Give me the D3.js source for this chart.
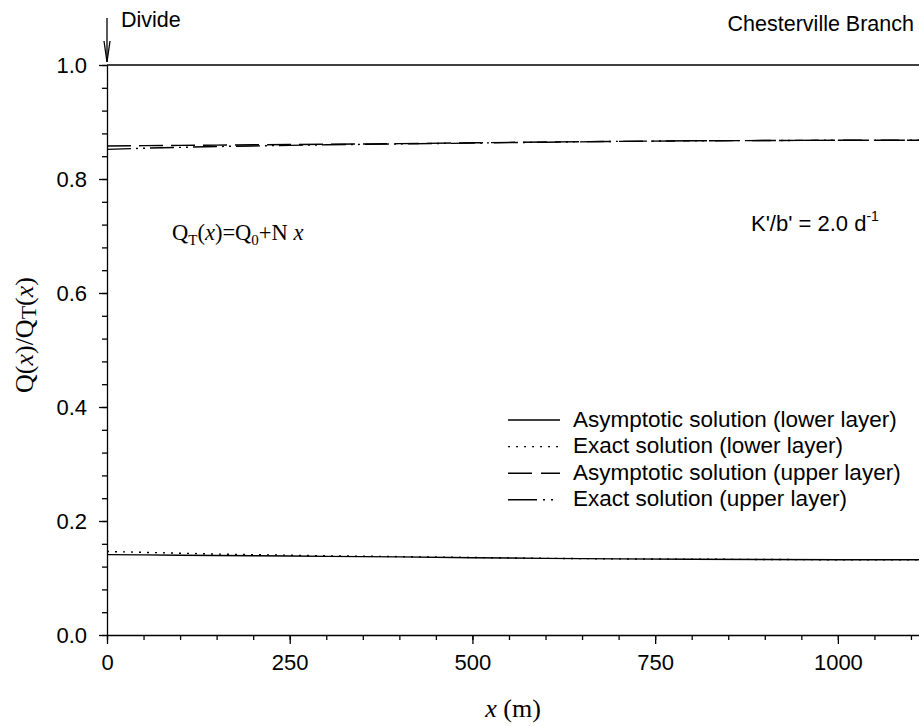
<!DOCTYPE html>
<html>
<head>
<meta charset="utf-8">
<script src="https://cdn.jsdelivr.net/npm/d3@7"></script>
<style>
  body { margin: 0; background: #fff; }
  svg { display: block; }
  .domain, .tick line { stroke: #000; stroke-width: 1.3; }
</style>
</head>
<body>
<svg id="chart" width="919" height="726"></svg>
<script>
// distance from the divide, m
const xValues = [0, 50, 100, 150, 200, 250, 300, 400, 500, 600, 700, 800, 900, 1000, 1111];
const lowerAsymptotic = [0.141, 0.1405, 0.140, 0.1395, 0.139, 0.1385, 0.138, 0.137, 0.1355, 0.1345, 0.1335, 0.133, 0.1325, 0.132, 0.132];
const lowerExact = [0.1465, 0.145, 0.1435, 0.142, 0.141, 0.140, 0.139, 0.1375, 0.136, 0.1345, 0.1335, 0.133, 0.1325, 0.132, 0.132];
const upperAsymptotic = [0.858, 0.8585, 0.859, 0.8595, 0.860, 0.8605, 0.861, 0.862, 0.8635, 0.865, 0.866, 0.867, 0.8675, 0.868, 0.868];
const upperExact = [0.852, 0.854, 0.8555, 0.857, 0.858, 0.859, 0.860, 0.8615, 0.863, 0.8645, 0.866, 0.867, 0.8675, 0.868, 0.868];
const totalFlow = [1, 1, 1, 1, 1, 1, 1, 1, 1, 1, 1, 1, 1, 1, 1];

const xMajorTicks = [0, 250, 500, 750, 1000];
const yMajorTicks = [0.0, 0.2, 0.4, 0.6, 0.8, 1.0];
const legendLabels = [
  "Asymptotic solution (lower layer)",
  "Exact solution (lower layer)",
  "Asymptotic solution (upper layer)",
  "Exact solution (upper layer)"
];

const margin = {top: 65, right: 0, bottom: 91, left: 107};
const width = 919, height = 726;
const sans = "Arial, 'Liberation Sans', sans-serif";
const serif = "'Times New Roman', 'Liberation Serif', serif";

const svg = d3.select("#chart");

let xScale = d3.scaleLinear().domain([0, 1111]).range([margin.left, width - margin.right]);
let yScale = d3.scaleLinear().domain([0, 1]).range([height - margin.bottom, margin.top]);

// minor ticks first so the major ones draw on top
svg.append("g")
  .attr("transform", "translate(0," + yScale(0) + ")")
  .call(d3.axisBottom(xScale).tickValues(d3.range(0, 1111, 50)).tickSize(5).tickFormat(""))
  .call(g => g.select(".domain").remove());
svg.append("g")
  .attr("transform", "translate(" + xScale(0) + ",0)")
  .call(d3.axisLeft(yScale).tickValues(d3.range(0, 1.001, 0.04)).tickSize(5).tickFormat(""))
  .call(g => g.select(".domain").remove());

svg.append("g")
  .attr("class", "axis-x")
  .attr("transform", "translate(0," + yScale(0) + ")")
  .call(d3.axisBottom(xScale).tickValues(xMajorTicks).tickSize(9).tickSizeOuter(0).tickPadding(10).tickFormat(d3.format("d")))
  .attr("font-size", 22)
  .attr("font-family", sans);

svg.append("g")
  .attr("class", "axis-y")
  .attr("transform", "translate(" + xScale(0) + ",0)")
  .call(d3.axisLeft(yScale).tickValues(yMajorTicks).tickSize(8).tickSizeOuter(0).tickPadding(12).tickFormat(d3.format(".1f")))
  .attr("font-size", 22)
  .attr("font-family", sans);

const series = [
  {values: lowerAsymptotic, dash: null},
  {values: lowerExact, dash: "2,6"},
  {values: upperAsymptotic, dash: "24,8"},
  {values: upperExact, dash: "24,5,2,5,2,5"},
  {values: totalFlow, dash: null}
];

const line = d3.line()
  .x(function(d, i) { return xScale(xValues[i]); })
  .y(function(d) { return yScale(d); });

svg.selectAll("path.series")
  .data(series)
  .enter()
  .append("path")
  .attr("class", "series")
  .attr("d", function(d) { return line(d.values); })
  .attr("fill", "none")
  .attr("stroke", "#000")
  .attr("stroke-width", 1.4)
  .attr("stroke-dasharray", function(d) { return d.dash; });

// legend
const legendDash = [null, "2,6", "24,9", "29,6,2,6,2"];
let legend = svg.append("g").attr("transform", "translate(508,420)");
legendLabels.forEach(function(label, i) {
  legend.append("line")
    .attr("x1", 0).attr("x2", 52)
    .attr("y1", i * 26.6).attr("y2", i * 26.6)
    .attr("stroke", "#000")
    .attr("stroke-width", 1.4)
    .attr("stroke-dasharray", legendDash[i]);
  legend.append("text")
    .attr("x", 65).attr("y", i * 26.6 + 6.5)
    .attr("font-family", sans)
    .attr("font-size", 22.5)
    .text(label);
});

// divide arrow
svg.append("line")
  .attr("x1", xScale(0)).attr("x2", xScale(0))
  .attr("y1", 18).attr("y2", yScale(1) - 3)
  .attr("stroke", "#000")
  .attr("stroke-width", 1.3);
svg.append("path")
  .attr("d", "M" + (xScale(0) - 3) + "," + (yScale(1) - 24) + " L" + xScale(0) + "," + (yScale(1) - 3) + " L" + (xScale(0) + 3) + "," + (yScale(1) - 24))
  .attr("fill", "none")
  .attr("stroke", "#000")
  .attr("stroke-width", 1.3);

svg.append("text")
  .attr("x", 121).attr("y", 27)
  .attr("font-family", sans).attr("font-size", 21.5)
  .text("Divide");

svg.append("text")
  .attr("x", 914).attr("y", 31)
  .attr("text-anchor", "end")
  .attr("font-family", sans).attr("font-size", 21.5)
  .text("Chesterville Branch");

let kText = svg.append("text")
  .attr("x", 751).attr("y", 231)
  .attr("font-family", sans).attr("font-size", 22);
kText.append("tspan").text("K'/b' = 2.0 d");
kText.append("tspan").attr("font-size", 14).attr("dy", -10).text("-1");

let qText = svg.append("text")
  .attr("x", 172).attr("y", 240)
  .attr("font-family", serif).attr("font-size", 22.5);
qText.append("tspan").text("Q");
qText.append("tspan").attr("font-size", 15).attr("dy", 5).text("T");
qText.append("tspan").attr("dy", -5).text("(");
qText.append("tspan").attr("font-style", "italic").text("x");
qText.append("tspan").text(")=Q");
qText.append("tspan").attr("font-size", 15).attr("dy", 5).text("0");
qText.append("tspan").attr("dy", -5).text("+N ");
qText.append("tspan").attr("font-style", "italic").text("x");

// axis titles
let yTitle = svg.append("text")
  .attr("transform", "translate(33,335) rotate(-90)")
  .attr("text-anchor", "middle")
  .attr("font-family", serif).attr("font-size", 26);
yTitle.append("tspan").text("Q(");
yTitle.append("tspan").attr("font-style", "italic").text("x");
yTitle.append("tspan").text(")/Q");
yTitle.append("tspan").attr("font-size", 22).attr("dy", 3).text("T");
yTitle.append("tspan").attr("dy", -3).text("(");
yTitle.append("tspan").attr("font-style", "italic").text("x");
yTitle.append("tspan").text(")");

let xTitle = svg.append("text")
  .attr("x", (xScale.range()[0] + xScale.range()[1]) / 2).attr("y", 717)
  .attr("text-anchor", "middle")
  .attr("font-family", serif).attr("font-size", 26);
xTitle.append("tspan").attr("font-style", "italic").text("x");
xTitle.append("tspan").text(" (m)");
</script>
</body>
</html>
